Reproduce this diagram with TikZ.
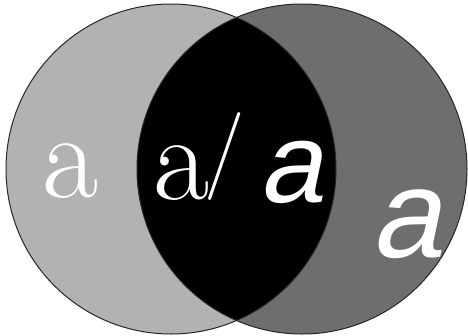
\documentclass[tikz,border=0pt]{standalone}
\usepackage{fontspec}
\newfontfamily\arsans{Liberation Sans}[FakeSlant=0.21]
\definecolor{lgray}{HTML}{B2B2B2}
\definecolor{dgray}{HTML}{6E6E6E}
\tikzset{
  disc/.style={circle, minimum size=330pt, inner sep=0pt},
  rim/.style={draw=black!85, line width=1pt},
  glyph/.style={text=white, inner sep=0pt, anchor=base},
}
\begin{document}
\begin{tikzpicture}[x=1pt,y=-1pt]
\useasboundingbox (0,0) rectangle (468,335);
\node[disc, fill=lgray] (lc) at (171,169) {};
\node[disc, fill=dgray] (rc) at (302,169) {};
\begin{scope}
  \clip (171,169) circle (165);
  \fill[black] (302,169) circle (165);
\end{scope}
\draw[rim] (lc.center) circle (165);
\draw[rim] (rc.center) circle (165);
\node[glyph] (t1) at (70,197) {\rmfamily\fontsize{122}{124}\selectfont a};
\node[glyph, anchor=base west] (t2) at (153,199) {\rmfamily\fontsize{122}{124}\selectfont a\kern-5pt\raisebox{21pt}{\fontsize{88}{90}\selectfont /}};
\node[glyph] (t3) at (290,202) {\arsans\fontsize{114}{120}\selectfont a};
\node[glyph] (t4) at (406,257) {\arsans\fontsize{126}{128}\selectfont a};
\end{tikzpicture}
\end{document}
